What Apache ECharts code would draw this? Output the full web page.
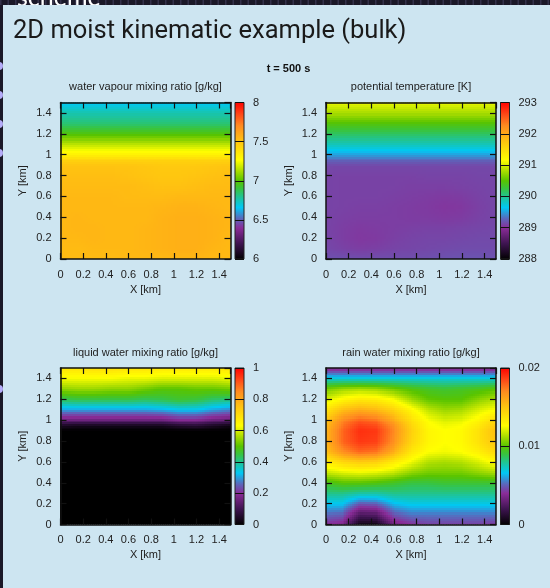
<!DOCTYPE html>
<html>
<head>
<meta charset="utf-8">
<style>html,body{margin:0;padding:0;background:#1a1828}#chart{width:550px;height:588px}</style>
<script src="https://cdn.jsdelivr.net/npm/echarts@6/dist/echarts.min.js"></script>
</head>
<body>
<div id="chart"></div>
<script>
// grid nodes the fields were read at (km)
var xNodes = [0, 0.15, 0.3, 0.45, 0.6, 0.75, 0.9, 1.05, 1.2, 1.35, 1.5];
var yNodes = [0, 0.1, 0.2, 0.3, 0.4, 0.5, 0.6, 0.7, 0.8, 0.9, 0.95, 1.0, 1.1, 1.2, 1.3, 1.4, 1.5];

// rows go from y = 0 upwards
var waterVapour = [
  [7.53, 7.53, 7.53, 7.53, 7.54, 7.54, 7.54, 7.55, 7.55, 7.54, 7.54],
  [7.53, 7.53, 7.54, 7.54, 7.54, 7.55, 7.56, 7.57, 7.57, 7.55, 7.54],
  [7.54, 7.54, 7.55, 7.54, 7.54, 7.55, 7.56, 7.57, 7.57, 7.56, 7.54],
  [7.54, 7.55, 7.55, 7.54, 7.54, 7.55, 7.56, 7.57, 7.57, 7.56, 7.55],
  [7.54, 7.55, 7.54, 7.54, 7.54, 7.54, 7.56, 7.57, 7.57, 7.56, 7.55],
  [7.54, 7.54, 7.54, 7.54, 7.54, 7.54, 7.55, 7.56, 7.56, 7.55, 7.54],
  [7.54, 7.54, 7.54, 7.54, 7.53, 7.53, 7.53, 7.54, 7.54, 7.54, 7.54],
  [7.53, 7.53, 7.53, 7.53, 7.53, 7.52, 7.51, 7.51, 7.52, 7.53, 7.53],
  [7.52, 7.52, 7.52, 7.52, 7.51, 7.50, 7.49, 7.49, 7.50, 7.51, 7.52],
  [7.50, 7.50, 7.50, 7.50, 7.50, 7.49, 7.48, 7.48, 7.48, 7.49, 7.50],
  [7.44, 7.44, 7.44, 7.44, 7.44, 7.44, 7.44, 7.44, 7.44, 7.44, 7.44],
  [7.32, 7.32, 7.32, 7.32, 7.32, 7.32, 7.32, 7.32, 7.32, 7.32, 7.32],
  [7.16, 7.16, 7.16, 7.16, 7.16, 7.16, 7.16, 7.16, 7.16, 7.16, 7.16],
  [6.98, 6.98, 6.98, 6.98, 6.98, 6.98, 6.98, 6.98, 6.98, 6.98, 6.98],
  [6.84, 6.84, 6.84, 6.84, 6.84, 6.84, 6.84, 6.84, 6.84, 6.84, 6.84],
  [6.76, 6.76, 6.76, 6.76, 6.76, 6.76, 6.76, 6.76, 6.76, 6.76, 6.76],
  [6.66, 6.66, 6.66, 6.66, 6.66, 6.66, 6.66, 6.66, 6.66, 6.66, 6.66]
];

var potentialTemp = [
  [289.18, 289.18, 289.17, 289.17, 289.17, 289.17, 289.18, 289.19, 289.20, 289.20, 289.19],
  [289.14, 289.11, 289.09, 289.10, 289.12, 289.13, 289.14, 289.15, 289.16, 289.16, 289.16],
  [289.13, 289.09, 289.06, 289.07, 289.10, 289.12, 289.13, 289.13, 289.14, 289.15, 289.15],
  [289.12, 289.09, 289.07, 289.08, 289.09, 289.10, 289.11, 289.11, 289.12, 289.13, 289.14],
  [289.12, 289.10, 289.09, 289.09, 289.09, 289.08, 289.08, 289.07, 289.08, 289.11, 289.13],
  [289.12, 289.11, 289.10, 289.10, 289.09, 289.08, 289.07, 289.05, 289.06, 289.10, 289.13],
  [289.12, 289.11, 289.11, 289.11, 289.10, 289.09, 289.08, 289.07, 289.08, 289.11, 289.13],
  [289.12, 289.11, 289.11, 289.11, 289.11, 289.10, 289.10, 289.10, 289.11, 289.12, 289.13],
  [289.12, 289.11, 289.11, 289.11, 289.11, 289.11, 289.12, 289.12, 289.12, 289.13, 289.13],
  [289.14, 289.14, 289.14, 289.14, 289.14, 289.14, 289.14, 289.14, 289.14, 289.14, 289.14],
  [289.28, 289.28, 289.28, 289.28, 289.28, 289.28, 289.28, 289.28, 289.28, 289.28, 289.28],
  [289.50, 289.50, 289.50, 289.50, 289.50, 289.50, 289.50, 289.50, 289.50, 289.50, 289.50],
  [289.85, 289.85, 289.85, 289.85, 289.85, 289.85, 289.85, 289.85, 289.85, 289.85, 289.85],
  [290.15, 290.15, 290.15, 290.15, 290.15, 290.15, 290.15, 290.15, 290.15, 290.15, 290.15],
  [290.45, 290.45, 290.45, 290.45, 290.45, 290.45, 290.45, 290.45, 290.45, 290.45, 290.45],
  [290.80, 290.80, 290.80, 290.80, 290.80, 290.80, 290.80, 290.80, 290.80, 290.80, 290.80],
  [291.05, 291.05, 291.05, 291.05, 291.05, 291.05, 291.05, 291.05, 291.05, 291.05, 291.05]
];

var liquidWater = [
  [0, 0, 0, 0, 0, 0, 0, 0, 0, 0, 0],
  [0, 0, 0, 0, 0, 0, 0, 0, 0, 0, 0],
  [0, 0, 0, 0, 0, 0, 0, 0, 0, 0, 0],
  [0, 0, 0, 0, 0, 0, 0, 0, 0, 0, 0],
  [0, 0, 0, 0, 0, 0, 0, 0, 0, 0, 0],
  [0, 0, 0, 0, 0, 0, 0, 0, 0, 0, 0],
  [0, 0, 0, 0, 0, 0, 0, 0, 0, 0, 0],
  [0, 0, 0, 0, 0, 0, 0, 0, 0, 0, 0],
  [0, 0, 0, 0, 0, 0, 0, 0, 0, 0, 0],
  [0, 0, 0, 0, 0, 0, 0, 0, 0, 0, 0],
  [0.04, 0.03, 0.03, 0.03, 0.03, 0.03, 0.03, 0.05, 0.06, 0.04, 0.02],
  [0.15, 0.15, 0.15, 0.15, 0.15, 0.15, 0.15, 0.18, 0.18, 0.15, 0.14],
  [0.30, 0.30, 0.30, 0.30, 0.30, 0.30, 0.31, 0.33, 0.33, 0.30, 0.28],
  [0.43, 0.44, 0.44, 0.44, 0.44, 0.43, 0.44, 0.46, 0.45, 0.42, 0.41],
  [0.54, 0.55, 0.55, 0.54, 0.54, 0.52, 0.50, 0.50, 0.51, 0.51, 0.52],
  [0.62, 0.62, 0.62, 0.62, 0.61, 0.61, 0.60, 0.60, 0.60, 0.60, 0.61],
  [0.68, 0.68, 0.69, 0.69, 0.68, 0.68, 0.67, 0.67, 0.67, 0.67, 0.68]
];

var rainWater = [
  [0.0040, 0.0036, 0.0005, 0.0005, 0.0032, 0.0040, 0.0044, 0.0044, 0.0044, 0.0044, 0.0042],
  [0.0052, 0.0050, 0.0024, 0.0026, 0.0048, 0.0054, 0.0054, 0.0054, 0.0054, 0.0054, 0.0054],
  [0.0066, 0.0066, 0.0048, 0.0050, 0.0064, 0.0068, 0.0068, 0.0068, 0.0068, 0.0068, 0.0068],
  [0.0080, 0.0080, 0.0076, 0.0076, 0.0080, 0.0080, 0.0080, 0.0080, 0.0080, 0.0080, 0.0080],
  [0.0094, 0.0100, 0.0100, 0.0098, 0.0094, 0.0090, 0.0090, 0.0092, 0.0092, 0.0092, 0.0092],
  [0.0116, 0.0120, 0.0122, 0.0120, 0.0116, 0.0108, 0.0104, 0.0104, 0.0104, 0.0108, 0.0112],
  [0.0132, 0.0142, 0.0147, 0.0145, 0.0134, 0.0124, 0.0114, 0.0112, 0.0114, 0.0120, 0.0128],
  [0.0150, 0.0168, 0.0178, 0.0175, 0.0158, 0.0136, 0.0126, 0.0124, 0.0126, 0.0132, 0.0142],
  [0.0154, 0.0178, 0.0188, 0.0186, 0.0168, 0.0144, 0.0130, 0.0126, 0.0128, 0.0138, 0.0150],
  [0.0154, 0.0178, 0.0190, 0.0188, 0.0170, 0.0146, 0.0130, 0.0126, 0.0128, 0.0138, 0.0152],
  [0.0152, 0.0175, 0.0187, 0.0184, 0.0168, 0.0144, 0.0128, 0.0124, 0.0126, 0.0135, 0.0148],
  [0.0148, 0.0170, 0.0180, 0.0176, 0.0160, 0.0140, 0.0126, 0.0120, 0.0122, 0.0130, 0.0142],
  [0.0136, 0.0152, 0.0158, 0.0154, 0.0144, 0.0130, 0.0116, 0.0110, 0.0112, 0.0120, 0.0126],
  [0.0120, 0.0130, 0.0136, 0.0134, 0.0126, 0.0112, 0.0102, 0.0100, 0.0100, 0.0108, 0.0114],
  [0.0104, 0.0110, 0.0112, 0.0110, 0.0104, 0.0098, 0.0094, 0.0092, 0.0094, 0.0096, 0.0100],
  [0.0072, 0.0072, 0.0072, 0.0072, 0.0072, 0.0072, 0.0072, 0.0072, 0.0072, 0.0072, 0.0072],
  [0.0038, 0.0038, 0.0038, 0.0038, 0.0038, 0.0038, 0.0038, 0.0038, 0.0038, 0.0038, 0.0038]
];

// colour bar ranges and tick steps
var vapourRange = [6, 8], vapourStep = 0.5;
var thetaRange = [288, 293], thetaStep = 1;
var liquidRange = [0, 1], liquidStep = 0.2;
var rainRange = [0, 0.02], rainStep = 0.01;

var titles = [
  'water vapour mixing ratio [g/kg]',
  'potential temperature [K]',
  'liquid water mixing ratio [g/kg]',
  'rain water mixing ratio [g/kg]'
];

// gnuplot like palette
var palette = [
  [0, '#000000'], [0.1, '#3d1450'], [0.2, '#8a2c98'], [0.26, '#5a68bc'],
  [0.33, '#00c8f4'], [0.39, '#1cc4a0'], [0.45, '#38c440'], [0.5, '#58c400'],
  [0.56, '#a8dc00'], [0.63, '#ffff00'], [0.75, '#ffc410'], [0.85, '#ff8a20'],
  [0.92, '#ff4a18'], [1, '#ff0000']
];
var paletteRgb = palette.map(function (s) {
  return [s[0], parseInt(s[1].substr(1, 2), 16), parseInt(s[1].substr(3, 2), 16), parseInt(s[1].substr(5, 2), 16)];
});

function colourAt(f) {
  f = Math.max(0, Math.min(1, f));
  for (var i = 1; i < paletteRgb.length; i++) {
    if (f <= paletteRgb[i][0]) {
      var a = paletteRgb[i - 1], b = paletteRgb[i];
      var t = (f - a[0]) / (b[0] - a[0]);
      return 'rgb(' + Math.round(a[1] + (b[1] - a[1]) * t) + ',' +
        Math.round(a[2] + (b[2] - a[2]) * t) + ',' +
        Math.round(a[3] + (b[3] - a[3]) * t) + ')';
    }
  }
  return '#ff0000';
}

var FONT = '"Liberation Sans", Arial, sans-serif';
var TEXT = '#222';

// one item per read cell: x0, y0, x1, y1 and the four corner values
function cellsOf(field) {
  var cells = [];
  for (var j = 0; j < yNodes.length - 1; j++) {
    for (var i = 0; i < xNodes.length - 1; i++) {
      cells.push([xNodes[i], yNodes[j], xNodes[i + 1], yNodes[j + 1],
        field[j][i], field[j][i + 1], field[j + 1][i], field[j + 1][i + 1]]);
    }
  }
  return cells;
}

// shade a cell smoothly between its corners (as pm3d interpolate does)
function shadeCell(range) {
  return function (params, api) {
    var x0 = api.value(0), y0 = api.value(1), x1 = api.value(2), y1 = api.value(3);
    var v00 = api.value(4), v10 = api.value(5), v01 = api.value(6), v11 = api.value(7);
    var c0 = api.coord([x0, y0]), c1 = api.coord([x1, y1]);
    var nx = Math.max(1, Math.round((c1[0] - c0[0]) / 2));
    var ny = Math.max(1, Math.round((c0[1] - c1[1]) / 2));
    var rects = [];
    for (var b = 0; b < ny; b++) {
      for (var a = 0; a < nx; a++) {
        var p = api.coord([x0 + (x1 - x0) * a / nx, y0 + (y1 - y0) * (b + 1) / ny]);
        var q = api.coord([x0 + (x1 - x0) * (a + 1) / nx, y0 + (y1 - y0) * b / ny]);
        var s = (a + 0.5) / nx, t = (b + 0.5) / ny;
        var v = v00 * (1 - s) * (1 - t) + v10 * s * (1 - t) + v01 * (1 - s) * t + v11 * s * t;
        // whole pixels, otherwise the antialiased edges show as a mesh
        var px = Math.floor(p[0]), py = Math.floor(p[1]);
        rects.push({
          type: 'rect',
          shape: { x: px, y: py, width: Math.ceil(q[0]) - px, height: Math.ceil(q[1]) - py },
          style: { fill: colourAt((v - range[0]) / (range[1] - range[0])) }
        });
      }
    }
    return { type: 'group', children: rects };
  };
}

function drawBar(params, api) {
  var lo = api.coord([0, api.value(1)]), hi = api.coord([1, api.value(2)]);
  return {
    type: 'rect',
    shape: { x: lo[0], y: hi[1], width: hi[0] - lo[0], height: lo[1] - hi[1] },
    style: {
      fill: {
        type: 'linear', x: 0, y: 1, x2: 0, y2: 0,
        colorStops: palette.map(function (s) { return { offset: s[0], color: s[1] }; })
      },
      stroke: '#222',
      lineWidth: 1
    }
  };
}

var panels = [
  { field: waterVapour, range: vapourRange, step: vapourStep, left: 60.5, top: 102.5 },
  { field: potentialTemp, range: thetaRange, step: thetaStep, left: 326, top: 102.5 },
  { field: liquidWater, range: liquidRange, step: liquidStep, left: 60.5, top: 368 },
  { field: rainWater, range: rainRange, step: rainStep, left: 326, top: 368 }
];
var PW = 170, PH = 156.5;

var option = {
  animation: false,
  backgroundColor: '#1a1828',
  title: [], grid: [], xAxis: [], yAxis: [], series: [],
  graphic: { elements: [] }
};

panels.forEach(function (p, n) {
  var g = option.grid.length;
  option.grid.push({ left: p.left, top: p.top, width: PW, height: PH });
  option.grid.push({ left: p.left + 174.5, top: p.top, width: 9, height: PH });

  option.title.push({
    text: titles[n], left: p.left + PW / 2, top: p.top - 15.5, padding: 0, textAlign: 'center', textVerticalAlign: 'middle',
    textStyle: { fontFamily: FONT, fontSize: 11, fontWeight: 'normal', color: TEXT }
  });

  var frame = { show: true, onZero: false, lineStyle: { color: '#111', width: 1.5 } };
  var tick = { show: true, inside: true, length: 6, lineStyle: { color: '#111', width: 1.2 } };
  var xi = option.xAxis.length, yi = option.yAxis.length;

  // bottom and left axes carry the labels, top and right only mirror the ticks
  option.xAxis.push({
    type: 'value', gridIndex: g, min: 0, max: 1.5, interval: 0.2, position: 'bottom', z: 5,
    axisLine: frame, axisTick: tick, splitLine: { show: false },
    axisLabel: { showMaxLabel: false, margin: 10, fontFamily: FONT, fontSize: 11, color: TEXT },
    name: 'X [km]', nameLocation: 'middle', nameGap: 25,
    nameTextStyle: { fontFamily: FONT, fontSize: 11, color: TEXT }
  });
  option.xAxis.push({
    type: 'value', gridIndex: g, min: 0, max: 1.5, interval: 0.2, position: 'top', z: 5,
    axisLine: frame, axisTick: tick, splitLine: { show: false }, axisLabel: { show: false }
  });
  option.yAxis.push({
    type: 'value', gridIndex: g, min: 0, max: 1.5, interval: 0.2, position: 'left', z: 5,
    axisLine: frame, axisTick: tick, splitLine: { show: false },
    axisLabel: { showMaxLabel: false, margin: 9, fontFamily: FONT, fontSize: 11, color: TEXT },
    name: 'Y [km]', nameLocation: 'middle', nameGap: 32,
    nameTextStyle: { fontFamily: FONT, fontSize: 11, color: TEXT }
  });
  option.yAxis.push({
    type: 'value', gridIndex: g, min: 0, max: 1.5, interval: 0.2, position: 'right', z: 5,
    axisLine: frame, axisTick: tick, splitLine: { show: false }, axisLabel: { show: false }
  });

  option.series.push({
    type: 'custom', coordinateSystem: 'cartesian2d', xAxisIndex: xi, yAxisIndex: yi, clip: true, silent: true, z: 1,
    data: cellsOf(p.field), renderItem: shadeCell(p.range),
    encode: { x: [0, 2], y: [1, 3] }
  });

  // colour bar
  option.xAxis.push({ type: 'value', gridIndex: g + 1, min: 0, max: 1, show: false });
  option.yAxis.push({
    type: 'value', gridIndex: g + 1, min: p.range[0], max: p.range[1], interval: p.step, position: 'right', z: 5,
    axisLine: { show: false, onZero: false }, splitLine: { show: false },
    axisTick: { show: true, inside: true, length: 9, lineStyle: { color: '#111', width: 1 } },
    axisLabel: { margin: 9, fontFamily: FONT, fontSize: 11, color: TEXT }
  });
  option.series.push({
    type: 'custom', coordinateSystem: 'cartesian2d', xAxisIndex: xi + 2, yAxisIndex: yi + 2, silent: true, z: 1,
    data: [[0, p.range[0], p.range[1]]], renderItem: drawBar
  });
});

option.title.push({
  text: 't = 500 s', left: 288.5, top: 69, padding: 0, textAlign: 'center', textVerticalAlign: 'middle',
  textStyle: { fontFamily: FONT, fontSize: 11, fontWeight: 'bold', color: '#111' }
});

// slide behind the figure: navigation strip, bullets, clipped heading
var slide = [];
[66, 95, 124, 153, 389].forEach(function (cy) {
  slide.push({ type: 'circle', shape: { cx: -1, cy: cy, r: 4 }, style: { fill: '#b4acf8' } });
});
slide.push({
  type: 'line', shape: { x1: 0, y1: 2.5, x2: 550, y2: 2.5 },
  style: { stroke: '#33314a', lineWidth: 5, lineDash: [1.5, 6] }
});
slide.push({
  type: 'text', x: 17, y: 10, style: { text: 'scheme', fill: '#fff', font: '25px Lato, sans-serif', verticalAlign: 'bottom' }
});
slide.push({
  type: 'rect', shape: { x: 3, y: 5, width: 547, height: 583 }, style: { fill: '#cde5f1' }
});
slide.push({
  type: 'text', x: 13, y: 31.5, style: { text: '2D moist kinematic example (bulk)', fill: '#1a1a1a', font: '25.5px Roboto, sans-serif', verticalAlign: 'middle' }
});
option.graphic.elements = slide;

var chart = echarts.init(document.getElementById('chart'), null, { renderer: 'canvas' });
chart.setOption(option);
</script>
</body>
</html>
